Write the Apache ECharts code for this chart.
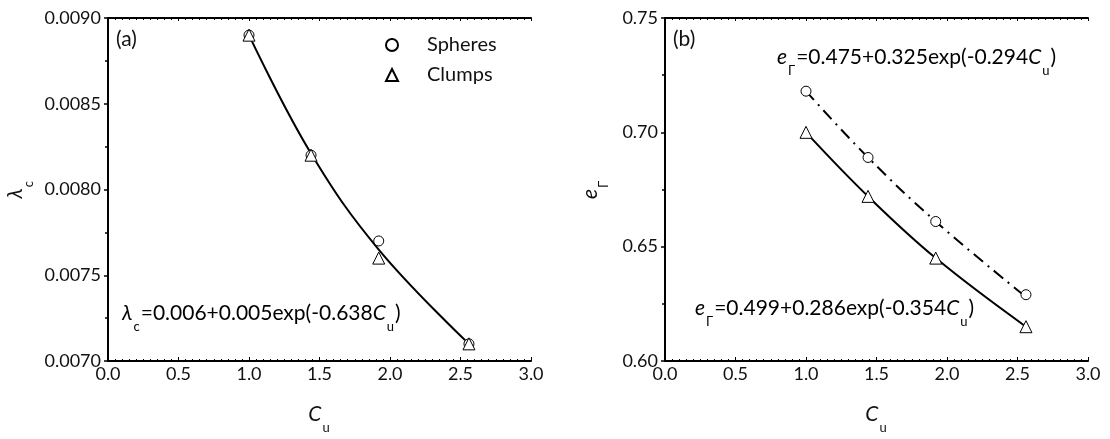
<!DOCTYPE html>
<html>
<head>
<meta charset="utf-8">
<script src="https://cdn.jsdelivr.net/npm/echarts@6/dist/echarts.min.js"></script>
<style>
  html, body { margin: 0; padding: 0; background: #fff; }
  #chart { width: 1110px; height: 439px; }
</style>
</head>
<body>
<div id="chart"></div>
<script>
// values
var cuValues = [1.0, 1.44, 1.92, 2.56];
var lambdaSpheres = [0.0089, 0.0082, 0.0077, 0.0071];
var lambdaClumps = [0.0089, 0.0082, 0.0076, 0.0071];
var lambdaFit = [0.0089, 0.00821, 0.00765, 0.0071];
var eSpheres = [0.718, 0.689, 0.661, 0.629];
var eClumps = [0.700, 0.672, 0.645, 0.615];
var eFitSpheres = [0.718, 0.689, 0.661, 0.628];
var eFitClumps = [0.700, 0.672, 0.645, 0.615];
var xTicks = [0, 3, 0.5];          // min, max, interval
var lambdaTicks = [0.0070, 0.0090, 0.0005];
var eTicks = [0.60, 0.75, 0.05];

var FONT = 'Lato';
var chart = echarts.init(document.getElementById('chart'));

function pairs(xs, ys) {
    return xs.map(function (x, i) { return [x, ys[i]]; });
}

var rich = {
    n: { fontFamily: FONT, fontSize: 21, color: '#111', lineHeight: 26, verticalAlign: 'middle' },
    i: { fontFamily: FONT, fontSize: 21, color: '#111', fontStyle: 'italic', lineHeight: 26, verticalAlign: 'middle' },
    s: { fontFamily: FONT, fontSize: 13, color: '#111', lineHeight: 26, verticalAlign: 'bottom', padding: [0, 1, -7, 1] }
};

function bottomAxis(gi, name) {
    return {
        type: 'value', gridIndex: gi, position: 'bottom',
        min: xTicks[0], max: xTicks[1], interval: xTicks[2],
        axisLine: { lineStyle: { color: '#000', width: 2 } },
        axisTick: { inside: true, length: 4, lineStyle: { color: '#000' } },
        minorTick: { show: true, splitNumber: 10, length: 2, lineStyle: { color: '#000' } },
        splitLine: { show: false },
        axisLabel: { fontFamily: FONT, fontSize: 18, color: '#111', margin: 4,
            formatter: function (v) { return v.toFixed(1); } },
        name: name, nameLocation: 'middle', nameGap: 40,
        nameTextStyle: { rich: rich }
    };
}
function topAxis(gi) {
    return {
        type: 'value', gridIndex: gi, position: 'top',
        min: xTicks[0], max: xTicks[1], interval: xTicks[2],
        axisLine: { lineStyle: { color: '#000', width: 2 } },
        axisTick: { inside: true, length: 3, lineStyle: { color: '#000' } },
        minorTick: { show: true, splitNumber: 10, length: 2, lineStyle: { color: '#000' } },
        splitLine: { show: false }, axisLabel: { show: false }
    };
}
function leftAxis(gi, t, digits, name, gap) {
    return {
        type: 'value', gridIndex: gi, position: 'left',
        min: t[0], max: t[1], interval: t[2],
        axisLine: { lineStyle: { color: '#000', width: 2 } },
        axisTick: { inside: false, length: 4, lineStyle: { color: '#000', width: 1.5 } },
        minorTick: { show: true, splitNumber: 2, length: 3, lineStyle: { color: '#000', width: 1.5 } },
        splitLine: { show: false },
        axisLabel: { fontFamily: FONT, fontSize: 18, color: '#111', margin: 7,
            formatter: function (v) { return v.toFixed(digits); } },
        name: name, nameLocation: 'middle', nameGap: gap, nameRotate: 90,
        nameTextStyle: { rich: rich }
    };
}
function rightAxis(gi, t) {
    return {
        type: 'value', gridIndex: gi, position: 'right',
        min: t[0], max: t[1], interval: t[2],
        axisLine: { lineStyle: { color: '#000', width: 2 } },
        axisTick: { inside: true, length: 3, lineStyle: { color: '#000', width: 1.5 } },
        minorTick: { show: true, splitNumber: 2, length: 3, lineStyle: { color: '#000', width: 1.5 } },
        splitLine: { show: false }, axisLabel: { show: false }
    };
}

var hollow = { color: '#fff', borderColor: '#000', borderWidth: 1, opacity: 1 };

var option = {
    animation: false,
    backgroundColor: '#fff',
    grid: [
        { left: 108, top: 18, width: 423, height: 351 },
        { left: 665, top: 18, width: 423, height: 351 }
    ],
    xAxis: [bottomAxis(0, '{i|C}{s|u}'), topAxis(0), bottomAxis(1, '{i|C}{s|u}'), topAxis(1)],
    yAxis: [leftAxis(0, lambdaTicks, 4, '{i|λ}{s|c}', 80), rightAxis(0, lambdaTicks),
            leftAxis(1, eTicks, 2, '{i|e}{s|Γ}', 62), rightAxis(1, eTicks)],
    legend: {
        orient: 'vertical', left: 380, top: 30, itemGap: 10,
        itemWidth: 12, itemHeight: 12,
        data: ['Spheres', 'Clumps'],
        textStyle: { fontFamily: FONT, fontSize: 20, color: '#111', padding: [0, 0, 0, 24] }
    },
    series: [
        { name: 'fitA', type: 'line', xAxisIndex: 0, yAxisIndex: 0, data: pairs(cuValues, lambdaFit),
          smooth: 0.4, showSymbol: false, lineStyle: { color: '#000', width: 2 }, z: 1 },
        { name: 'Spheres', type: 'scatter', xAxisIndex: 0, yAxisIndex: 0, data: pairs(cuValues, lambdaSpheres),
          symbol: 'circle', symbolSize: 10, itemStyle: hollow, z: 3 },
        { name: 'Clumps', type: 'scatter', xAxisIndex: 0, yAxisIndex: 0, data: pairs(cuValues, lambdaClumps),
          symbol: 'triangle', symbolSize: 12, itemStyle: hollow, z: 3 },
        { name: 'fitBS', type: 'line', xAxisIndex: 2, yAxisIndex: 2, data: pairs(cuValues, eFitSpheres),
          smooth: 0.4, showSymbol: false, lineStyle: { color: '#000', width: 2, type: [12, 6, 2, 6] }, z: 1 },
        { name: 'fitBC', type: 'line', xAxisIndex: 2, yAxisIndex: 2, data: pairs(cuValues, eFitClumps),
          smooth: 0.4, showSymbol: false, lineStyle: { color: '#000', width: 2 }, z: 1 },
        { name: 'Spheres', type: 'scatter', xAxisIndex: 2, yAxisIndex: 2, data: pairs(cuValues, eSpheres),
          symbol: 'circle', symbolSize: 10, itemStyle: hollow, z: 3 },
        { name: 'Clumps', type: 'scatter', xAxisIndex: 2, yAxisIndex: 2, data: pairs(cuValues, eClumps),
          symbol: 'triangle', symbolSize: 12, itemStyle: hollow, z: 3 }
    ],
    graphic: [
        { type: 'text', left: 116, top: 29, style: { text: '(a)', font: '21px ' + FONT, fill: '#111' } },
        { type: 'text', left: 673, top: 29, style: { text: '(b)', font: '21px ' + FONT, fill: '#111' } },
        { type: 'text', left: 122, top: 303, style: { text: '{i|λ}{s|c}{n|=0.006+0.005exp(-0.638}{i|C}{s|u}{n|)}', rich: rich } },
        { type: 'text', left: 777, top: 47, style: { text: '{i|e}{s|Γ}{n|=0.475+0.325exp(-0.294}{i|C}{s|u}{n|)}', rich: rich } },
        { type: 'text', left: 695, top: 298, style: { text: '{i|e}{s|Γ}{n|=0.499+0.286exp(-0.354}{i|C}{s|u}{n|)}', rich: rich } }
    ]
};
chart.setOption(option);
</script>
</body>
</html>
